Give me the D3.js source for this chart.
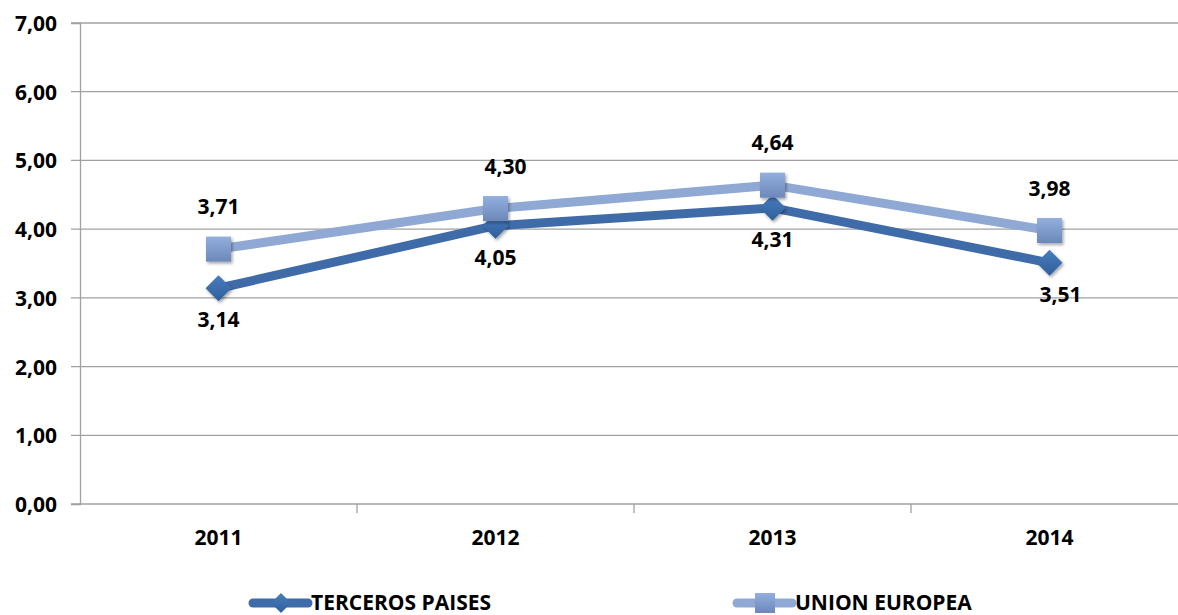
<!DOCTYPE html>
<html>
<head>
<meta charset="utf-8">
<script src="https://cdn.jsdelivr.net/npm/d3@7"></script>
<style>
    body { margin: 0; background: #fff; }
    text { font-family: "Open Sans", sans-serif; font-weight: 700; fill: #000; }
</style>
</head>
<body>
<div id="chart"></div>
<script>
// data
const years = ["2011", "2012", "2013", "2014"];
const terceros = [3.14, 4.05, 4.31, 3.51];
const union = [3.71, 4.30, 4.64, 3.98];
const yTicks = [0, 1, 2, 3, 4, 5, 6, 7];
const seriesNames = ["TERCEROS PAISES", "UNION EUROPEA"];

const W = 1178, H = 615;
const margin = {l: 80, t: 23, r: -10, b: 111};
const width = W - margin.l - margin.r;
const height = H - margin.t - margin.b;

const fmt = v => d3.format(".2f")(v).replace(".", ",");

const svg = d3.select("#chart").append("svg")
    .attr("width", W)
    .attr("height", H);

const defs = svg.append("defs");
// square marker gradient
let grad = defs.append("linearGradient").attr("id", "sqGrad")
    .attr("x1", 0).attr("y1", 0).attr("x2", 0).attr("y2", 1);
grad.append("stop").attr("offset", "0%").attr("stop-color", "#93afdd");
grad.append("stop").attr("offset", "100%").attr("stop-color", "#6c88bb");
let grad2 = defs.append("linearGradient").attr("id", "dmGrad")
    .attr("x1", 0).attr("y1", 0).attr("x2", 0).attr("y2", 1);
grad2.append("stop").attr("offset", "0%").attr("stop-color", "#4a7cbd");
grad2.append("stop").attr("offset", "100%").attr("stop-color", "#2f5f9c");
let shadow = defs.append("filter").attr("id", "shadow")
    .attr("x", "-50%").attr("y", "-50%").attr("width", "200%").attr("height", "200%");
shadow.append("feDropShadow").attr("dx", 1.5).attr("dy", 2).attr("stdDeviation", 1.5)
    .attr("flood-color", "#000").attr("flood-opacity", 0.35);

const g = svg.append("g").attr("transform", `translate(${margin.l},${margin.t})`);

let x = d3.scaleBand().domain(years).range([0, width]);
let y = d3.scaleLinear().domain([0, 7]).range([height, 0]);

//gridlines
g.append("g")
    .selectAll("line")
    .data(yTicks)
    .join("line")
    .attr("x1", -9)
    .attr("x2", width)
    .attr("y1", d => y(d))
    .attr("y2", d => y(d))
    .attr("stroke", "#a0a0a0")
    .attr("stroke-width", 1.3);

//y axis
let axisY = d3.axisLeft(y).tickValues(yTicks).tickFormat(fmt).tickSize(9).tickPadding(14);
let gy = g.append("g").call(axisY);
gy.select(".domain").attr("stroke", "#a0a0a0").attr("stroke-width", 1.3);
gy.selectAll(".tick line").remove();
gy.selectAll("text").attr("font-size", 21).attr("dy", "0.36em");
gy.attr("font-family", null);

//x axis
let axisX = d3.axisBottom(x).tickSize(0).tickPadding(26);
let gx = g.append("g").attr("transform", `translate(0,${height})`).call(axisX);
gx.select(".domain").remove();
gx.selectAll("text").attr("font-size", 21);
gx.attr("font-family", null);
// category separators
gx.append("g")
    .selectAll("line")
    .data(years)
    .join("line")
    .attr("x1", d => x(d) + x.bandwidth())
    .attr("x2", d => x(d) + x.bandwidth())
    .attr("y1", 0)
    .attr("y2", 9)
    .attr("stroke", "#a0a0a0")
    .attr("stroke-width", 1.3);

const cx = d => x(d) + x.bandwidth() / 2;

const line = d3.line()
    .x((d, i) => cx(years[i]))
    .y(d => y(d));

// UNION EUROPEA
g.append("path")
    .datum(union)
    .attr("fill", "none")
    .attr("stroke", "#8fa9d4")
    .attr("stroke-width", 9)
    .attr("stroke-linejoin", "round")
    .attr("d", line);
// TERCEROS PAISES
g.append("path")
    .datum(terceros)
    .attr("fill", "none")
    .attr("stroke", "#3f6ca8")
    .attr("stroke-width", 9)
    .attr("stroke-linejoin", "round")
    .attr("d", line);

const diamond = "M0,-13L13,0L0,13L-13,0Z";
g.append("g")
    .selectAll("path")
    .data(terceros)
    .join("path")
    .attr("d", diamond)
    .attr("transform", (d, i) => `translate(${cx(years[i])},${y(d)})`)
    .attr("fill", "url(#dmGrad)")
    .attr("filter", "url(#shadow)");

g.append("g")
    .selectAll("rect")
    .data(union)
    .join("rect")
    .attr("x", (d, i) => cx(years[i]) - 12.5)
    .attr("y", d => y(d) - 12.5)
    .attr("width", 25)
    .attr("height", 25)
    .attr("fill", "url(#sqGrad)")
    .attr("filter", "url(#shadow)");

// data labels
g.append("g")
    .selectAll("text")
    .data(union)
    .join("text")
    .attr("x", (d, i) => cx(years[i]) + (i === 1 ? 10 : 0))
    .attr("y", d => y(d) - 35)
    .attr("text-anchor", "middle")
    .attr("font-size", 21)
    .text(fmt);

g.append("g")
    .selectAll("text")
    .data(terceros)
    .join("text")
    .attr("x", (d, i) => cx(years[i]) + (i === 3 ? 11 : 0))
    .attr("y", d => y(d) + 39)
    .attr("text-anchor", "middle")
    .attr("font-size", 21)
    .text(fmt);

// legend
const legendX = [253, 737];
const legendY = 603;
let legend = svg.append("g");
seriesNames.forEach(function(name, i) {
    let lg = legend.append("g").attr("transform", `translate(${legendX[i]},${legendY})`);
    lg.append("line")
        .attr("x1", 0).attr("x2", 55)
        .attr("y1", 0).attr("y2", 0)
        .attr("stroke", i === 0 ? "#3f6ca8" : "#8fa9d4")
        .attr("stroke-width", 9)
        .attr("stroke-linecap", "round");
    if (i === 0) {
        lg.append("path").attr("d", "M0,-10L10,0L0,10L-10,0Z")
            .attr("transform", "translate(28,0)")
            .attr("fill", "url(#dmGrad)");
    } else {
        lg.append("rect").attr("x", 18).attr("y", -10).attr("width", 20).attr("height", 20)
            .attr("fill", "url(#sqGrad)");
    }
    lg.append("text")
        .attr("x", 58)
        .attr("y", 7)
        .attr("font-size", 21)
        .text(name);
});
</script>
</body>
</html>
